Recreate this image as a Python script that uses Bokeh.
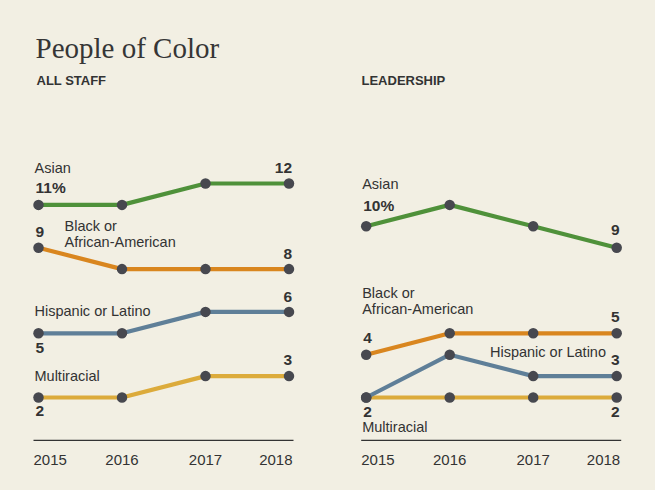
from bokeh.plotting import figure
from bokeh.layouts import row
from bokeh.models import Range1d
from bokeh.core.properties import value
from bokeh.embed import file_html
from bokeh.resources import INLINE

# ---- data ----
years = [2015, 2016, 2017, 2018]
year_labels = ["2015", "2016", "2017", "2018"]

staff_asian = [11, 11, 12, 12]
staff_black = [9, 8, 8, 8]
staff_hispanic = [5, 5, 6, 6]
staff_multi = [2, 2, 3, 3]

lead_asian = [10, 11, 10, 9]
lead_black = [4, 5, 5, 5]
lead_hispanic = [2, 4, 3, 3]
lead_multi = [2, 2, 2, 2]

title_text = "People of Color"
panel_titles = ["ALL STAFF", "LEADERSHIP"]

# ---- styles ----
BG = "#f2efe3"
INK = "#333333"
DOT = "#47484f"
GREEN = "#4f913a"
ORANGE = "#d9861f"
BLUE = "#5f7f98"
YELLOW = "#dcab3b"
SANS = "Liberation Sans"
SERIF = "Liberation Serif"

PX = 83.5   # pixels per year
PY = 21.4   # pixels per percentage point
H = 490
Y0_FROM_TOP = 439.8
BASE_FIX = 0.36  # em correction so the given offsets land on the text baseline


def make_fig(width, first_offset):
    p = figure(width=width, height=H, output_backend="svg", toolbar_location=None,
               x_range=Range1d(years[0] - first_offset / PX, years[0] + (width - first_offset) / PX),
               y_range=Range1d(-(H - Y0_FROM_TOP) / PY, Y0_FROM_TOP / PY),
               x_axis_location=None, y_axis_location=None, min_border=0,
               background_fill_color=BG, border_fill_color=BG, outline_line_color=None)
    p.grid.visible = False
    return p


def note(p, x, y, text, align="left", dx=0, dy=0, bold=False, size=14.5,
         font=SANS, color=INK):
    p.text(x=[x], y=[y], text=[text], x_offset=dx, y_offset=dy - BASE_FIX * size,
           text_align=align, text_baseline="alphabetic",
           text_font=value(font), text_font_size=f"{size}px",
           text_font_style="bold" if bold else "normal", text_color=color)


def series(p, vals, color):
    p.line(years, vals, line_color=color, line_width=4.2)
    p.scatter(years, vals, size=10.5, fill_color=DOT, line_color=None)


def base(p):
    p.segment(x0=[years[0] - 5 / PX], x1=[years[-1] + 4.5 / PX], y0=[0], y1=[0],
              line_color=INK, line_width=1.3)
    note(p, years[0], 0, year_labels[0], "left", -5, 25.2, size=15)
    for yr, lab in zip(years[1:-1], year_labels[1:-1]):
        note(p, yr, 0, lab, "center", 0, 25.2, size=15)
    note(p, years[-1], 0, year_labels[-1], "right", 3.5, 25.2, size=15)


NUM = 15.5

# ---- left panel: all staff ----
left = make_fig(328, 38)
ytop_l = left.y_range.end
series(left, staff_asian, GREEN)
series(left, staff_black, ORANGE)
series(left, staff_hispanic, BLUE)
series(left, staff_multi, YELLOW)
base(left)
note(left, years[0], ytop_l, title_text, "left", -3, 58, size=29, font=SERIF, color="#363636")
note(left, years[0], ytop_l, panel_titles[0], "left", -2, 85, bold=True, size=13)

note(left, years[0], staff_asian[0], "Asian", "left", -4, -31.7)
note(left, years[0], staff_asian[0], f"{staff_asian[0]}%", "left", -3, -11.4, bold=True, size=NUM)
note(left, years[-1], staff_asian[-1], str(staff_asian[-1]), "right", 3, -10.3, bold=True, size=NUM)

note(left, years[0], staff_black[0], str(staff_black[0]), "left", -3, -10.2, bold=True, size=NUM)
note(left, years[0], staff_black[0], "Black or", "left", 26, -16.2)
note(left, years[0], staff_black[0], "African-American", "left", 26, -0.5)
note(left, years[-1], staff_black[-1], str(staff_black[-1]), "right", 3, -9.6, bold=True, size=NUM)

note(left, years[-1], staff_hispanic[-1], str(staff_hispanic[-1]), "right", 3, -9.7, bold=True, size=NUM)
note(left, years[0], staff_hispanic[0], "Hispanic or Latino", "left", -4, -16.8)
note(left, years[0], staff_hispanic[0], str(staff_hispanic[0]), "left", -3, 20.2, bold=True, size=NUM)

note(left, years[-1], staff_multi[-1], str(staff_multi[-1]), "right", 3, -10.6, bold=True, size=NUM)
note(left, years[0], staff_multi[0], "Multiracial", "left", -4, -16.3)
note(left, years[0], staff_multi[0], str(staff_multi[0]), "left", -3, 19, bold=True, size=NUM)

# ---- right panel: leadership ----
right = make_fig(327, 37.7)
ytop_r = right.y_range.end
series(right, lead_asian, GREEN)
series(right, lead_black, ORANGE)
series(right, lead_multi, YELLOW)
series(right, lead_hispanic, BLUE)
base(right)
note(right, years[0], ytop_r, panel_titles[1], "left", -4.7, 85, bold=True, size=13)

note(right, years[0], lead_asian[0], "Asian", "left", -4, -37)
note(right, years[0], lead_asian[0], f"{lead_asian[0]}%", "left", -3, -15.3, bold=True, size=NUM)
note(right, years[-1], lead_asian[-1], str(lead_asian[-1]), "right", 3, -12.3, bold=True, size=NUM)

note(right, years[0], lead_black[0], "Black or", "left", -4, -56)
note(right, years[0], lead_black[0], "African-American", "left", -4, -40)
note(right, years[0], lead_black[0], str(lead_black[0]), "left", -3, -11.2, bold=True, size=NUM)
note(right, years[-1], lead_black[-1], str(lead_black[-1]), "right", 3, -10.8, bold=True, size=NUM)

note(right, years[-1], lead_hispanic[-1], "Hispanic or Latino", "right", -10.7, -18.6)
note(right, years[-1], lead_hispanic[-1], str(lead_hispanic[-1]), "right", 3, -10.6, bold=True, size=NUM)

note(right, years[0], lead_multi[0], str(lead_multi[0]), "left", -3, 20, bold=True, size=NUM)
note(right, years[-1], lead_multi[-1], str(lead_multi[-1]), "right", 3, 20, bold=True, size=NUM)
note(right, years[0], lead_multi[0], "Multiracial", "left", -4, 34.7)

layout = row(left, right)
html = file_html(layout, INLINE)
html = html.replace("<head>", "<head><style>html,body{margin:0;padding:0;overflow:hidden;background:%s;}</style>" % BG, 1)
open("out.html", "w").write(html)
